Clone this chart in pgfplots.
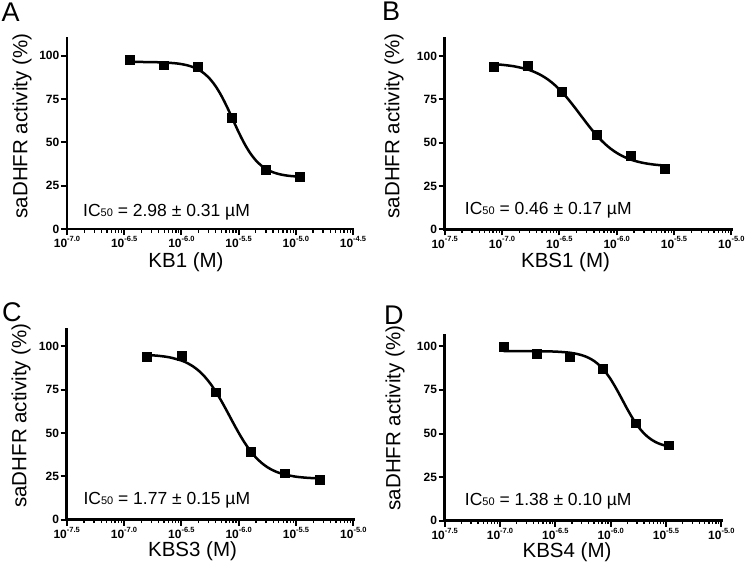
\documentclass[border=0pt]{standalone}
\usepackage{fontspec}
\setmainfont{Liberation Sans}
\usepackage{pgfplots}
\pgfplotsset{compat=1.18}

\pgfplotsset{
 dr/.style={
  scale only axis, anchor=south west,
  axis x line*=bottom, axis y line*=left,
  axis line style={line width=2.6pt, line cap=rect},
  ymin=0, ymax=110,
  ytick={0,25,50,75,100},
  tick align=outside,
  major tick length=6pt, minor tick length=3.5pt,
  every major tick/.append style={line width=2pt,black},
  every minor tick/.append style={line width=1.3pt,black},
  yticklabel style={font=\fontsize{12}{14}\selectfont\bfseries, inner sep=1.5pt},
  xticklabel style={font=\fontsize{12}{14}\selectfont\bfseries, inner sep=1pt},
  /pgf/number format/assume math mode=true,
  clip=false,
 },
}
\tikzset{
 fit/.style={black, line width=2.5pt, smooth, no marks},
 pts/.style={black, only marks, mark=square*, mark size=4.4pt},
 ictext/.style={anchor=base west, font=\fontsize{17.5}{20}\selectfont, inner sep=0pt},
}
\newcommand{\sm}[1]{{\fontsize{11}{13}\selectfont #1}}
\newcommand{\e}[1]{10\raisebox{6.5pt}{\fontsize{7.5}{9}\selectfont #1}}

\begin{document}
\begin{tikzpicture}[x=1pt,y=1pt]
\path[use as bounding box] (0,0) rectangle (747,566);

% ---------------- Panel A ----------------
\begin{axis}[dr, at={(67pt,337pt)}, width=286pt, height=190.5pt,
  xmin=-7, xmax=-4.5,
  xtick={-7,-6.5,-6,-5.5,-5,-4.5},
  xticklabels={\e{-7.0},\e{-6.5},\e{-6.0},\e{-5.5},\e{-5.0},\e{-4.5}},
  minor xtick={-6.8495,-6.7614,-6.6990,-6.6505,-6.6109,-6.5775,-6.5485,-6.5229,
   -6.3495,-6.2614,-6.1990,-6.1505,-6.1109,-6.0775,-6.0485,-6.0229,
   -5.8495,-5.7614,-5.6990,-5.6505,-5.6109,-5.5775,-5.5485,-5.5229,
   -5.3495,-5.2614,-5.1990,-5.1505,-5.1109,-5.0775,-5.0485,-5.0229,
   -4.8495,-4.7614,-4.6990,-4.6505,-4.6109,-4.5775,-4.5485,-4.5229}]
\addplot[fit] coordinates {(-6.455,96.48) (-6.35,96.44) (-6.25,96.35) (-6.15,96.15) (-6.05,95.67) (-6.0,95.22) (-5.95,94.54) (-5.9,93.52) (-5.85,92.0) (-5.8,89.77) (-5.75,86.62) (-5.7,82.35) (-5.65,76.87) (-5.6,70.33) (-5.55,63.15) (-5.5,55.97) (-5.45,49.42) (-5.4,43.95) (-5.35,39.68) (-5.3,36.53) (-5.25,34.31) (-5.2,32.78) (-5.15,31.76) (-5.1,31.08) (-5.05,30.63) (-4.963,30.19)};
\addplot[pts] coordinates {(-6.455,97.7) (-6.158,94.6) (-5.861,93.8) (-5.560,64.3) (-5.260,34.3) (-4.963,30.0)};
\node[ictext] at (axis cs:-6.86,7.5) {IC\sm{50} = 2.98 ± 0.31 µM};
\end{axis}

% ---------------- Panel B ----------------
\begin{axis}[dr, at={(444.7pt,336.7pt)}, width=286.6pt, height=190.6pt,
  xmin=-7.5, xmax=-5,
  xtick={-7.5,-7,-6.5,-6,-5.5,-5},
  xticklabels={\e{-7.5},\e{-7.0},\e{-6.5},\e{-6.0},\e{-5.5},\e{-5.0}},
  minor xtick={-7.3495,-7.2614,-7.1990,-7.1505,-7.1109,-7.0775,-7.0485,-7.0229,
   -6.8495,-6.7614,-6.6990,-6.6505,-6.6109,-6.5775,-6.5485,-6.5229,
   -6.3495,-6.2614,-6.1990,-6.1505,-6.1109,-6.0775,-6.0485,-6.0229,
   -5.8495,-5.7614,-5.6990,-5.6505,-5.6109,-5.5775,-5.5485,-5.5229,
   -5.3495,-5.2614,-5.1990,-5.1505,-5.1109,-5.0775,-5.0485,-5.0229}]
\addplot[fit] coordinates {(-7.072,95.30) (-7.0,94.94) (-6.9,94.12) (-6.8,92.69) (-6.75,91.65) (-6.7,90.30) (-6.65,88.60) (-6.6,86.47) (-6.55,83.88) (-6.5,80.79) (-6.45,77.24) (-6.4,73.24) (-6.35,68.98) (-6.3,64.60) (-6.25,60.26) (-6.2,56.16) (-6.15,52.44) (-6.1,49.17) (-6.05,46.40) (-6.0,44.12) (-5.95,42.27) (-5.9,40.80) (-5.85,39.65) (-5.8,38.77) (-5.75,38.09) (-5.7,37.57) (-5.65,37.18) (-5.578,36.78)};
\addplot[pts] coordinates {(-7.072,93.8) (-6.773,94.6) (-6.476,79.2) (-6.177,54.4) (-5.877,42.3) (-5.578,35.2)};
\node[ictext] at (axis cs:-7.325,8.3) {IC\sm{50} = 0.46 ± 0.17 µM};
\end{axis}

% ---------------- Panel C ----------------
\begin{axis}[dr, at={(66.7pt,46.3pt)}, width=286.6pt, height=190.7pt,
  xmin=-7.5, xmax=-5,
  xtick={-7.5,-7,-6.5,-6,-5.5,-5},
  xticklabels={\e{-7.5},\e{-7.0},\e{-6.5},\e{-6.0},\e{-5.5},\e{-5.0}},
  minor xtick={-7.3495,-7.2614,-7.1990,-7.1505,-7.1109,-7.0775,-7.0485,-7.0229,
   -6.8495,-6.7614,-6.6990,-6.6505,-6.6109,-6.5775,-6.5485,-6.5229,
   -6.3495,-6.2614,-6.1990,-6.1505,-6.1109,-6.0775,-6.0485,-6.0229,
   -5.8495,-5.7614,-5.6990,-5.6505,-5.6109,-5.5775,-5.5485,-5.5229,
   -5.3495,-5.2614,-5.1990,-5.1505,-5.1109,-5.0775,-5.0485,-5.0229}]
\addplot[fit] coordinates {(-6.802,95.02) (-6.7,94.54) (-6.6,93.61) (-6.5,91.82) (-6.45,90.41) (-6.4,88.52) (-6.35,86.02) (-6.3,82.79) (-6.25,78.77) (-6.2,73.93) (-6.15,68.39) (-6.1,62.36) (-6.05,56.15) (-6.0,50.15) (-5.95,44.65) (-5.9,39.88) (-5.85,35.92) (-5.8,32.76) (-5.75,30.31) (-5.7,28.46) (-5.65,27.08) (-5.6,26.07) (-5.5,24.81) (-5.4,24.16) (-5.296,23.83)};
\addplot[pts] coordinates {(-6.802,94.2) (-6.497,94.6) (-6.197,73.6) (-5.894,39.4) (-5.595,26.8) (-5.296,22.9)};
\node[ictext] at (axis cs:-7.355,8.7) {IC\sm{50} = 1.77 ± 0.15 µM};
\end{axis}

% ---------------- Panel D ----------------
\begin{axis}[dr, at={(444.7pt,45.3pt)}, width=276.6pt, height=185.7pt,
  xmin=-7.5, xmax=-5, ymax=106.5,
  xtick={-7.5,-7,-6.5,-6,-5.5,-5},
  xticklabels={\e{-7.5},\e{-7.0},\e{-6.5},\e{-6.0},\e{-5.5},\e{-5.0}},
  minor xtick={-7.3495,-7.2614,-7.1990,-7.1505,-7.1109,-7.0775,-7.0485,-7.0229,
   -6.8495,-6.7614,-6.6990,-6.6505,-6.6109,-6.5775,-6.5485,-6.5229,
   -6.3495,-6.2614,-6.1990,-6.1505,-6.1109,-6.0775,-6.0485,-6.0229,
   -5.8495,-5.7614,-5.6990,-5.6505,-5.6109,-5.5775,-5.5485,-5.5229,
   -5.3495,-5.2614,-5.1990,-5.1505,-5.1109,-5.0775,-5.0485,-5.0229}]
\addplot[fit] coordinates {(-6.967,97.29) (-6.8,97.27) (-6.6,97.16) (-6.5,96.98) (-6.4,96.55) (-6.35,96.16) (-6.3,95.58) (-6.25,94.71) (-6.2,93.44) (-6.15,91.60) (-6.1,89.03) (-6.05,85.55) (-6.0,81.14) (-5.95,75.82) (-5.9,69.99) (-5.85,64.05) (-5.8,58.58) (-5.75,53.88) (-5.7,50.15) (-5.65,47.34) (-5.6,45.31) (-5.55,43.89) (-5.478,42.61)};
\addplot[pts] coordinates {(-6.967,100) (-6.672,95.8) (-6.370,93.9) (-6.075,87.4) (-5.773,55.9) (-5.478,43.3)};
\node[ictext] at (axis cs:-7.319,8.6) {IC\sm{50} = 1.38 ± 0.10 µM};
\end{axis}

% ---------------- labels ----------------
\tikzset{lab/.style={font=\fontsize{20.5}{24}\selectfont, inner sep=0pt}}
\node[lab, rotate=90, anchor=center] at (22,440) {saDHFR activity (\%)};
\node[lab, rotate=90, anchor=center] at (394,440) {saDHFR activity (\%)};
\node[lab, rotate=90, anchor=center] at (21,150.5) {saDHFR activity (\%)};
\node[lab, rotate=90, anchor=center] at (395,148) {saDHFR activity (\%)};
\node[lab, anchor=base] at (186,299) {KB1 (M)};
\node[lab, anchor=base] at (565.5,299) {KBS1 (M)};
\node[lab, anchor=base] at (192.5,10) {KBS3 (M)};
\node[lab, anchor=base] at (567,9) {KBS4 (M)};
\tikzset{plab/.style={font=\fontsize{27}{30}\selectfont, inner sep=0pt, anchor=base west}}
\node[plab] at (1.5,544.3) {A};
\node[plab] at (382,545.3) {B};
\node[plab] at (2,244.7) {C};
\node[plab] at (384,241.3) {D};
\end{tikzpicture}
\end{document}
